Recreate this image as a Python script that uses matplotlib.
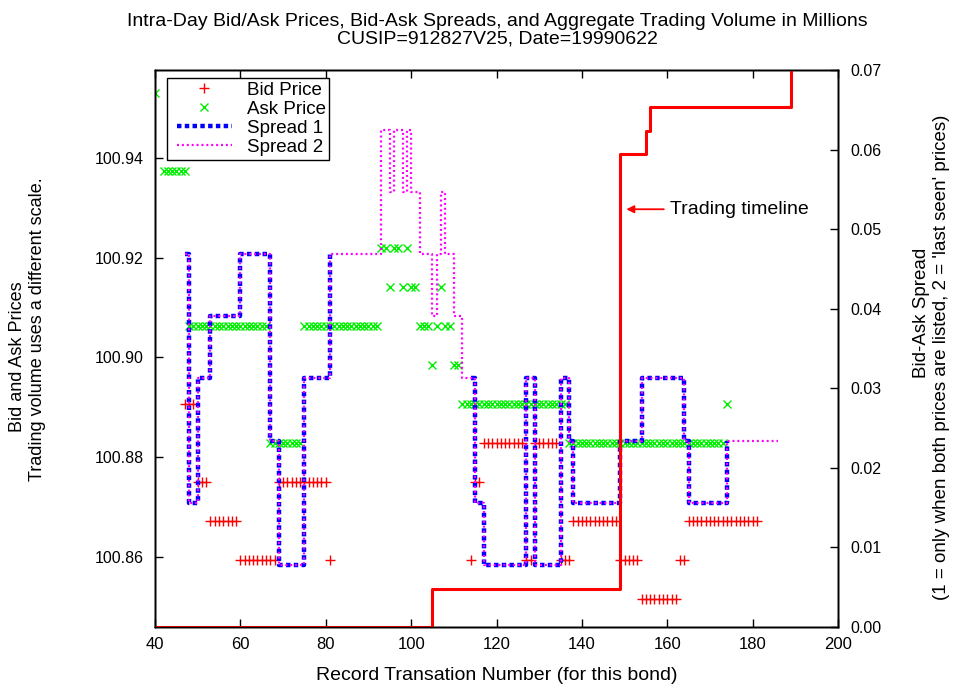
import numpy as np
import matplotlib
matplotlib.use("Agg")
import matplotlib.pyplot as plt
from matplotlib.lines import Line2D
from matplotlib.legend_handler import HandlerLine2D

plt.rcParams['font.family'] = ['Liberation Sans', 'DejaVu Sans']
plt.rcParams['font.size'] = 12

# Bid quotes as runs: (first record, last record, price)
bid_runs = [
    (47, 49, 100.890625),
    (50, 52, 100.875),
    (53, 59, 100.8671875),
    (60, 68, 100.859375),
    (69, 80, 100.875),
    (81, 81, 100.859375),
    (114, 114, 100.859375),
    (115, 116, 100.875),
    (117, 126, 100.8828125),
    (127, 128, 100.859375),
    (129, 134, 100.8828125),
    (135, 137, 100.859375),
    (138, 148, 100.8671875),
    (149, 153, 100.859375),
    (154, 162, 100.8515625),
    (163, 164, 100.859375),
    (165, 181, 100.8671875),
]

# Ask quotes as runs: (first record, last record, price)
ask_runs = [
    (40, 40, 100.953125),
    (42, 47, 100.9375),
    (48, 66, 100.90625),
    (67, 74, 100.8828125),
    (75, 92, 100.90625),
    (93, 94, 100.921875),
    (95, 95, 100.9140625),
    (96, 97, 100.921875),
    (98, 98, 100.9140625),
    (99, 99, 100.921875),
    (100, 101, 100.9140625),
    (102, 104, 100.90625),
    (105, 105, 100.8984375),
    (106, 106, 100.90625),
    (107, 107, 100.9140625),
    (108, 109, 100.90625),
    (110, 111, 100.8984375),
    (112, 136, 100.890625),
    (137, 173, 100.8828125),
    (174, 174, 100.890625),
]

# Spread 1 (both prices listed on the record): step change points, two segments
spread1_a_x = [47, 48, 50, 53, 60, 67, 69, 75, 81]
spread1_a_y = [0.046875, 0.015625, 0.03125, 0.0390625, 0.046875,
               0.0234375, 0.0078125, 0.03125, 0.046875]
spread1_b_x = [114, 115, 117, 127, 129, 135, 137, 138, 149, 154, 164, 165, 174]
spread1_b_y = [0.03125, 0.015625, 0.0078125, 0.03125, 0.0078125, 0.03125,
               0.0234375, 0.015625, 0.0234375, 0.03125, 0.0234375,
               0.015625, 0.0234375]

# Spread 2 (last seen prices): step change points
spread2_x = [47, 48, 50, 53, 60, 67, 69, 75, 81, 93, 95, 96, 98, 99, 100,
             102, 105, 106, 107, 108, 110, 112, 115, 117, 127, 129, 135,
             137, 138, 149, 154, 164, 165, 174, 186]
spread2_y = [0.046875, 0.015625, 0.03125, 0.0390625, 0.046875, 0.0234375,
             0.0078125, 0.03125, 0.046875, 0.0625, 0.0546875, 0.0625,
             0.0546875, 0.0625, 0.0546875, 0.046875, 0.0390625, 0.046875,
             0.0546875, 0.046875, 0.0390625, 0.03125, 0.015625, 0.0078125,
             0.03125, 0.0078125, 0.03125, 0.0234375, 0.015625, 0.0234375,
             0.03125, 0.0234375, 0.015625, 0.0234375, 0.0234375]

# Aggregate trading volume (millions), cumulative step points
volume_x = [40, 105, 149, 155, 156, 189]
volume_y = [0.0, 4.8, 59.4, 62.3, 65.4, 100.0]


def expand(runs):
    xs, ys = [], []
    for first, last, price in runs:
        for r in range(first, last + 1):
            xs.append(r)
            ys.append(price)
    return np.array(xs), np.array(ys)


bid_x, bid_y = expand(bid_runs)
ask_x, ask_y = expand(ask_runs)

W, H = 955, 685
fig = plt.figure(figsize=(W / 100, H / 100), dpi=100)
L, R, T, B = 155, 838, 70, 627
rect = [L / W, 1 - B / H, (R - L) / W, (B - T) / H]

ax = fig.add_axes(rect)
ax2 = ax.twinx()
ax3 = ax.twinx()

red = '#ff0000'
green = '#00ee00'
blue = '#0000ff'
magenta = '#ff00ff'

ax.plot(bid_x, bid_y, linestyle='none', marker='+', color=red,
        markersize=6.5, markeredgewidth=1.0)
ax.plot(ask_x, ask_y, linestyle='none', marker='x', color=green,
        markersize=5.5, markeredgewidth=1.0)

s1_style = dict(color=blue, lw=3.2, linestyle=(0, (1.0, 0.75)),
                drawstyle='steps-post', solid_capstyle='butt',
                dash_capstyle='butt')
ax2.plot(spread1_a_x, spread1_a_y, **s1_style)
ax2.plot(spread1_b_x, spread1_b_y, **s1_style)
s2_style = dict(color=magenta, lw=1.6, linestyle=(0, (0.9, 1.3)),
                drawstyle='steps-post')
ax2.plot(spread2_x, spread2_y, **s2_style)

ax3.plot(volume_x, volume_y, color=red, lw=2.2, drawstyle='steps-post')

ax.set_xlim(40, 200)
ax.set_ylim(100.8459, 100.9577)
ax2.set_ylim(0, 0.07)
ax3.set_ylim(0, 70)
ax3.set_yticks([])
for a in (ax, ax2, ax3):
    for s in a.spines.values():
        s.set_linewidth(1.0)

ax.set_xticks(np.arange(40, 201, 20))
ax.set_yticks([100.86, 100.88, 100.90, 100.92, 100.94])
ax.yaxis.set_major_formatter(matplotlib.ticker.FormatStrFormatter('%.2f'))
ax2.set_yticks(np.arange(0, 0.0701, 0.01))
ax2.yaxis.set_major_formatter(matplotlib.ticker.FormatStrFormatter('%.2f'))
ax.tick_params(axis='x', direction='in', length=6, width=1, top=True,
               labelsize=12, pad=7)
ax.tick_params(axis='y', direction='in', length=6, width=1, labelsize=11.5,
               pad=8)
ax2.tick_params(axis='y', direction='in', length=6, width=1, labelsize=11.5,
                pad=9)

# Annotation for the volume line
ax3.annotate('', xy=(150.4, 52.5), xytext=(159.2, 52.5),
             arrowprops=dict(arrowstyle='-|>', color=red, lw=1.3,
                             mutation_scale=11, shrinkA=0, shrinkB=0))
ax3.text(160.6, 52.5, 'Trading timeline', ha='left', va='center',
         fontsize=14)

handles = [
    Line2D([], [], linestyle='none', marker='+', color=red, markersize=6.5,
           markeredgewidth=1.0),
    Line2D([], [], linestyle='none', marker='x', color=green, markersize=5.5,
           markeredgewidth=1.0),
    Line2D([], [], color=blue, lw=3.2, linestyle=(0, (1.0, 0.75))),
    Line2D([], [], color=magenta, lw=1.6, linestyle=(0, (0.9, 1.3))),
]
leg_fs = 13.5
leg = ax3.legend(handles, ['Bid Price', 'Ask Price', 'Spread 1', 'Spread 2'],
                 loc='upper left', bbox_to_anchor=(12 / (R - L), 1 - 8 / (B - T)),
                 borderaxespad=0, fancybox=False, framealpha=1,
                 edgecolor='black', handlelength=3.25, handletextpad=0.8,
                 labelspacing=0.1, borderpad=0.2, fontsize=leg_fs,
                 markerscale=1.0, numpoints=1,
                 handler_map={Line2D: HandlerLine2D(xpad=0.32)})
leg.get_frame().set_linewidth(1.0)

fig.text(497 / W, 1 - 30.5 / H,
         'Intra-Day Bid/Ask Prices, Bid-Ask Spreads, and Aggregate Trading Volume in Millions\n'
         'CUSIP=912827V25, Date=19990622',
         ha='center', va='center', fontsize=14, linespacing=1.0)
fig.text(497 / W, 1 - 675 / H, 'Record Transation Number (for this bond)',
         ha='center', va='center', fontsize=14)

# Two-line axis titles, each line placed on its own
fig.text(18 / W, 1 - 357 / H, 'Bid and Ask Prices',
         ha='center', va='center', rotation=90, fontsize=13)
fig.text(37 / W, 1 - 329 / H, 'Trading volume uses a different scale.',
         ha='center', va='center', rotation=90, fontsize=13)
fig.text(921 / W, 1 - 313 / H, 'Bid-Ask Spread',
         ha='center', va='center', rotation=90, fontsize=13.5)
fig.text(941 / W, 1 - 357 / H,
         "(1 = only when both prices are listed, 2 = 'last seen' prices)",
         ha='center', va='center', rotation=90, fontsize=13.5)

fig.savefig('out.png', dpi=100)
